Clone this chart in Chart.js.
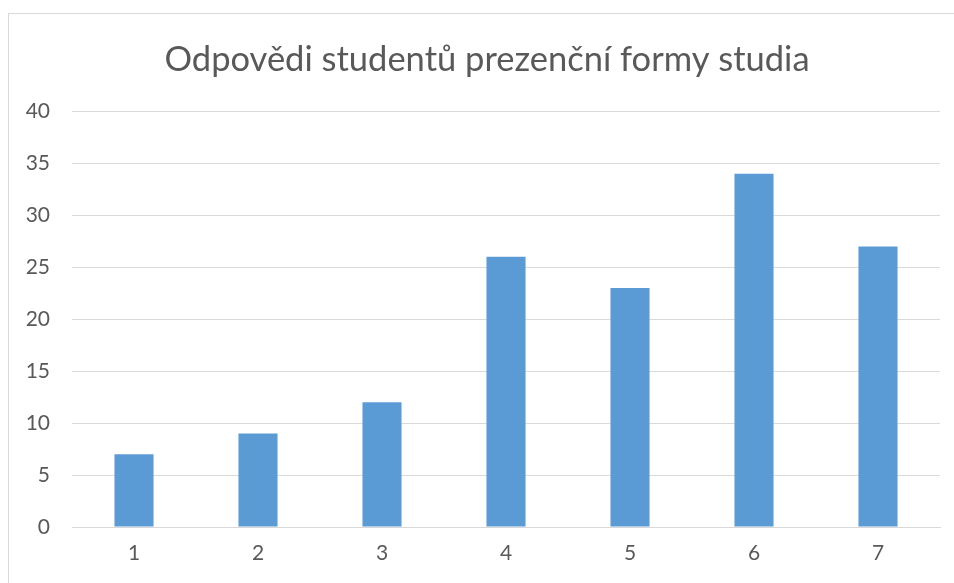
<!DOCTYPE html>
<html>
<head>
<meta charset="utf-8">
<script src="https://cdn.jsdelivr.net/npm/chart.js@4"></script>
<style>
html,body{margin:0;padding:0;background:#fff;}
#wrap{position:relative;width:954px;height:583px;}
#frame{position:absolute;left:8px;top:13px;right:0;bottom:0;border-top:1px solid #d9d9d9;border-left:1px solid #d9d9d9;pointer-events:none;}
canvas{position:absolute;left:0;top:0;}
</style>
</head>
<body>
<div id="wrap">
<canvas id="c" width="954" height="583"></canvas>
<div id="frame"></div>
</div>
<script>
const titleText = "Odpovědi studentů prezenční formy studia";
const categories = ["1","2","3","4","5","6","7"];
const values = [7, 9, 12, 26, 23, 34, 27];
const yMin = 0, yMax = 40, yStep = 5;

const titleShift = {
  id: 'titleShift',
  afterLayout(chart) {
    const t = chart.titleBlock;
    if (t) { t.left += 17; t.right += 17; }
  }
};

new Chart(document.getElementById('c'), {
  type: 'bar',
  data: {
    labels: categories,
    datasets: [{
      data: values,
      backgroundColor: '#5b9bd5',
      borderWidth: 0,
      barPercentage: 0.315,
      categoryPercentage: 1.0
    }]
  },
  plugins: [titleShift],
  options: {
    responsive: false,
    animation: false,
    layout: {padding: {left: 0, right: 14, top: 0, bottom: 0}},
    plugins: {
      legend: {display: false},
      tooltip: {enabled: false},
      title: {
        display: true,
        text: titleText,
        color: '#595959',
        font: {family: 'Lato', size: 34.5, weight: 'normal', lineHeight: 1.2},
        padding: {top: 39, bottom: 31}
      }
    },
    scales: {
      x: {
        grid: {display: false, drawTicks: false},
        border: {display: true, color: '#d9d9d9', width: 1},
        ticks: {color: '#595959', font: {family: 'Lato', size: 21}, padding: 14},
        afterFit: s => { s.height = 56; }
      },
      y: {
        min: yMin, max: yMax,
        ticks: {stepSize: yStep, color: '#595959', font: {family: 'Lato', size: 21}, padding: 22},
        grid: {color: '#d9d9d9', lineWidth: 1, drawTicks: false},
        border: {display: false},
        afterFit: s => { s.width = 72; }
      }
    }
  }
});
</script>
</body>
</html>
